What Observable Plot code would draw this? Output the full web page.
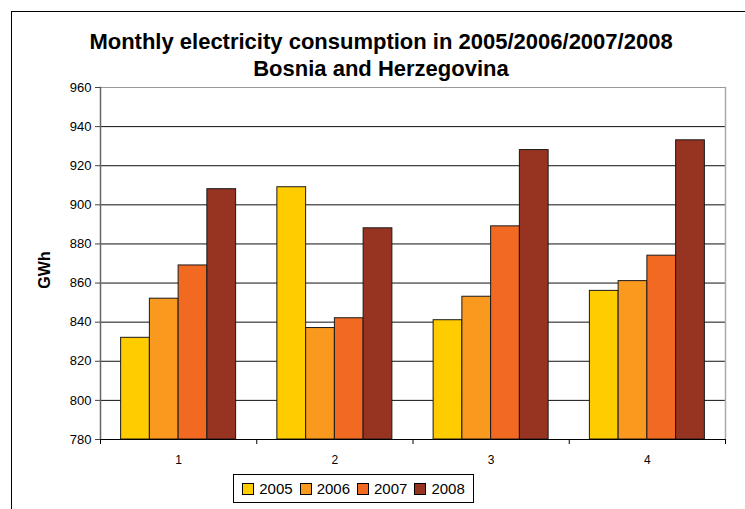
<!DOCTYPE html>
<html>
<head>
<meta charset="utf-8">
<script src="https://cdn.jsdelivr.net/npm/d3@7"></script>
<script src="https://cdn.jsdelivr.net/npm/@observablehq/plot@0.6"></script>
<style>
  html, body { margin: 0; padding: 0; background: #fff; }
  body { font-family: "Liberation Sans", Arial, sans-serif; }
  #wrap { position: relative; width: 745px; height: 509px; overflow: hidden; background: #fff; }
  #border { position: absolute; left: 11px; top: 11px; width: 800px; height: 600px;
            border-top: 1.5px solid #000; border-left: 1.5px solid #000; }
  #title { position: absolute; left: 11px; width: 740px; top: 28px; text-align: center;
           font-weight: bold; font-size: 22px; line-height: 27px; color: #000; }
  #ylabel { position: absolute; left: 45px; top: 270px; transform: translate(-50%, -50%) rotate(-90deg);
            font-weight: bold; font-size: 16px; white-space: nowrap; }
  #chart { position: absolute; left: 0; top: 80px; }
  #legend { position: absolute; left: 233px; top: 474px; width: 239px; height: 27px;
            border: 1px solid #000; display: flex; align-items: center; justify-content: center; gap: 7px;
            font-size: 15px; background: #fff; }
  .item { display: flex; align-items: center; gap: 5px; }
  .sw { width: 10px; height: 10px; border: 1px solid #000; }
</style>
</head>
<body>
<div id="wrap">
  <div id="border"></div>
  <div id="title">Monthly electricity consumption in 2005/2006/2007/2008<br>Bosnia and Herzegovina</div>
  <div id="ylabel">GWh</div>
  <div id="chart"></div>
  <div id="legend"></div>
</div>
<script>
// ---- data ----
const months = [1, 2, 3, 4];
const years = ["2005", "2006", "2007", "2008"];
const v2005 = [832, 909, 841, 856];
const v2006 = [852, 837, 853, 861];
const v2007 = [869, 842, 889, 874];
const v2008 = [908, 888, 928, 933];
const yTicks = [780, 800, 820, 840, 860, 880, 900, 920, 940, 960];
const colors = ["#FFCC00", "#F99A1E", "#F26A22", "#963421"];

// ---- table ----
const series = [v2005, v2006, v2007, v2008];
const rows = [];
years.forEach((yr, yi) => months.forEach((m, mi) => rows.push({month: m, year: yr, yi, value: series[yi][mi]})));

const groupFrac = 0.736;             // share of each category occupied by the bar cluster
const barW = groupFrac / years.length;
const boundaries = [months[0] - 0.5, ...months.map(m => m + 0.5)];

const chart = Plot.plot({
  width: 745,
  height: 389,
  marginTop: 7,
  marginBottom: 30,
  marginLeft: 100,
  marginRight: 20,
  style: {fontFamily: '"Liberation Sans", Arial, sans-serif', background: "transparent"},
  x: {domain: [boundaries[0], boundaries[boundaries.length - 1]], axis: null},
  y: {domain: [yTicks[0], yTicks[yTicks.length - 1]], axis: null},
  color: {domain: years, range: colors},
  marks: [
    Plot.ruleY(yTicks.slice(1, -1), {stroke: "#111", strokeWidth: 1}),
    Plot.frame({anchor: "top", stroke: "#999"}),
    Plot.frame({anchor: "right", stroke: "#aaa", strokeWidth: 1.5}),
    Plot.rectY(rows, {
      x1: d => d.month - groupFrac / 2 + d.yi * barW,
      x2: d => d.month - groupFrac / 2 + (d.yi + 1) * barW,
      y1: yTicks[0],
      y2: "value",
      fill: "year",
      stroke: "#1a1a1a",
      strokeWidth: 1
    }),
    Plot.frame({anchor: "left", stroke: "#666", strokeWidth: 1.5}),
    Plot.ruleY([yTicks[0]], {stroke: "#000", strokeWidth: 1}),
    Plot.axisY({ticks: yTicks, tickSize: 5, tickPadding: 4, fontSize: 13, label: null, stroke: "#444", fill: "#000"}),
    Plot.axisX({ticks: boundaries, tickSize: 5, tickFormat: () => "", label: null, stroke: "#000"}),
    Plot.axisX({ticks: months, tickSize: 0, tickPadding: 16, tickFormat: d => String(d), fontSize: 12, label: null, fill: "#000"})
  ]
});
document.getElementById("chart").appendChild(chart);

// ---- legend ----
const legend = document.getElementById("legend");
years.forEach((yr, i) => {
  const it = document.createElement("div");
  it.className = "item";
  const sw = document.createElement("div");
  sw.className = "sw";
  sw.style.background = colors[i];
  const t = document.createElement("span");
  t.textContent = yr;
  it.appendChild(sw); it.appendChild(t);
  legend.appendChild(it);
});
</script>
</body>
</html>
